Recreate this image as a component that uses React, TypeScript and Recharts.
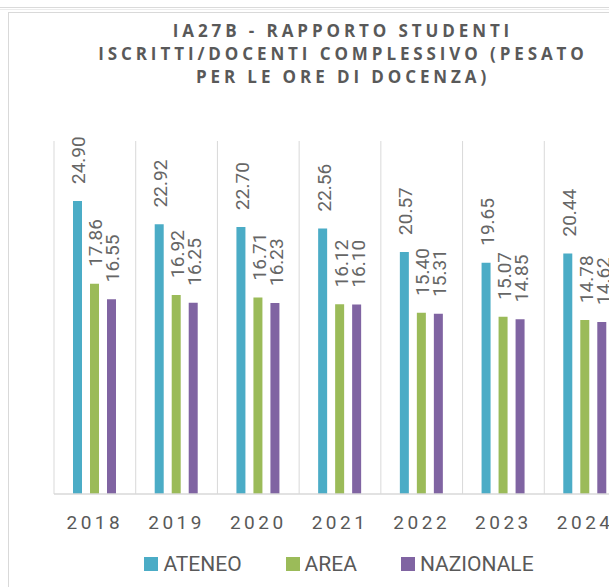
import { Bar, BarChart, CartesianGrid, LabelList, Legend, XAxis, YAxis } from "recharts"

const years = ["2018", "2019", "2020", "2021", "2022", "2023", "2024"]
const ateneo = [24.9, 22.92, 22.7, 22.56, 20.57, 19.65, 20.44]
const area = [17.86, 16.92, 16.71, 16.12, 15.4, 15.07, 14.78]
const nazionale = [16.55, 16.25, 16.23, 16.1, 15.31, 14.85, 14.62]

const seriesNames = ["ATENEO", "AREA", "NAZIONALE"]
const seriesColors = ["#4BACC6", "#9BBB59", "#8064A2"]

const titleLines = [
  "IA27B - RAPPORTO STUDENTI",
  "ISCRITTI/DOCENTI COMPLESSIVO (PESATO",
  "PER LE ORE DI DOCENZA)",
]

const data = years.map((year, i) => ({
  year,
  ATENEO: ateneo[i],
  AREA: area[i],
  NAZIONALE: nazionale[i],
}))

const TEXT = "#595959"

// rotated value label sitting above each bar
function VerticalLabel(props: any) {
  const { x, y, width, value } = props
  const tx = Number(x) + Number(width) / 2 + 8
  const ty = Number(y) - 17
  return (
    <text
      x={tx}
      y={ty}
      transform={`rotate(-90 ${tx} ${ty})`}
      textAnchor="start"
      fontSize={19}
      fontFamily="Roboto, sans-serif"
      fill="#666666"
    >
      {Number(value).toFixed(2)}
    </text>
  )
}

function YearTick(props: any) {
  const { x, y, payload } = props
  return (
    <text
      x={x}
      y={y + 35}
      textAnchor="middle"
      fontSize={19}
      fontFamily="Roboto, sans-serif"
      letterSpacing={3.5}
      fill={TEXT}
    >
      {payload.value}
    </text>
  )
}

function LegendContent() {
  return (
    <div
      style={{
        display: "flex",
        justifyContent: "center",
        alignItems: "center",
        height: 26,
        gap: 44,
        fontFamily: "Roboto, sans-serif",
        fontSize: 21,
        color: TEXT,
      }}
    >
      {seriesNames.map((name, i) => (
        <div key={name} style={{ display: "flex", alignItems: "center", gap: 5 }}>
          <span style={{ width: 14, height: 14, background: seriesColors[i], display: "inline-block" }} />
          <span>{name}</span>
        </div>
      ))}
    </div>
  )
}

export default function App() {
  return (
    <div style={{ position: "fixed", top: 0, left: 0, width: 609, height: 587, overflow: "hidden", background: "#fff" }}>
      <div style={{ position: "absolute", top: 7, left: 0, width: 609, height: 1, background: "#dadada" }} />
      <div style={{ position: "absolute", top: 9, left: 0, width: 609, height: 1, background: "#ececec" }} />
      <div
        style={{
          position: "absolute",
          left: 8,
          top: 12,
          width: 662,
          height: 620,
          border: "1px solid #d9d9d9",
          boxSizing: "border-box",
          background: "#fff",
        }}
      >
        <div
          style={{
            position: "absolute",
            top: 6,
            left: 4,
            width: 660,
            textAlign: "center",
            fontFamily: "'Open Sans', sans-serif",
            fontWeight: 700,
            fontSize: 17,
            lineHeight: "23px",
            letterSpacing: 3.9,
            color: TEXT,
          }}
        >
          {titleLines.map((line) => (
            <div key={line}>{line}</div>
          ))}
        </div>
        <div style={{ position: "absolute", top: 0, left: 0 }}>
          <BarChart
            width={660}
            height={574}
            data={data}
            margin={{ top: 128, right: 43, left: 45, bottom: 27 }}
            barGap={8}
          >
            <CartesianGrid
              horizontal={false}
              stroke="#d9d9d9"
              verticalCoordinatesGenerator={({ offset }: any) =>
                Array.from({ length: years.length + 1 }, (_, i) => offset.left + (i * offset.width) / years.length)
              }
            />
            <XAxis
              dataKey="year"
              axisLine={{ stroke: "#d9d9d9", strokeWidth: 1.5 }}
              tickLine={false}
              tickSize={0}
              tickMargin={0}
              height={40}
              tick={<YearTick />}
              interval={0}
            />
            <YAxis hide domain={[0, 30]} />
            <Legend
              verticalAlign="bottom"
              height={26}
              content={<LegendContent />}
              wrapperStyle={{ left: 0, width: 660, top: 538 }}
            />
            {seriesNames.map((name, i) => (
              <Bar key={name} dataKey={name} fill={seriesColors[i]} barSize={9} isAnimationActive={false}>
                <LabelList dataKey={name} content={<VerticalLabel />} />
              </Bar>
            ))}
          </BarChart>
        </div>
      </div>
    </div>
  )
}
